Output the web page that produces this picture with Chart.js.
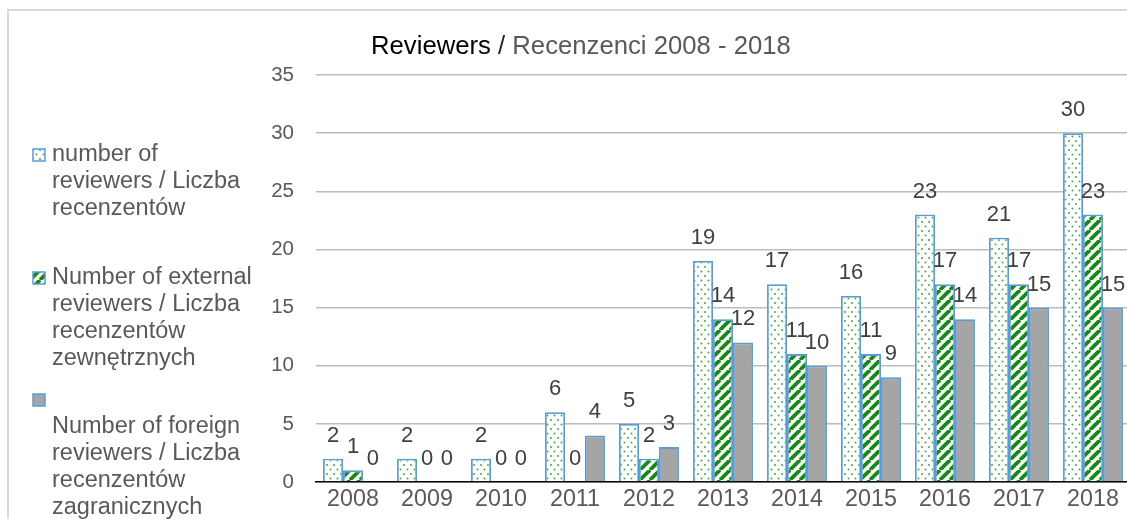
<!DOCTYPE html>
<html>
<head>
<meta charset="utf-8">
<script src="https://cdn.jsdelivr.net/npm/chart.js@4/dist/chart.umd.min.js"></script>
<style>
  html, body { margin: 0; padding: 0; background: #fff; }
  body { width: 1127px; height: 519px; overflow: hidden; position: relative; }
  #frame { position: absolute; left: 7px; top: 9px; width: 1300px; height: 700px;
           border: 2px solid #d9d9d9; box-sizing: border-box; }
  #chart { position: absolute; left: 0; top: 0; }
</style>
</head>
<body>
<div id="frame"></div>
<canvas id="chart" width="1140" height="540" style="width:1140px;height:540px"></canvas>
<script>
/* ==============================
   DATA
============================== */
var years = ["2008", "2009", "2010", "2011", "2012", "2013", "2014", "2015", "2016", "2017", "2018"];
var totalReviewers = [2, 2, 2, 6, 5, 19, 17, 16, 23, 21, 30];
var externalReviewers = [1, 0, 0, 0, 2, 14, 11, 11, 17, 17, 23];
var foreignReviewers = [0, 0, 0, 4, 3, 12, 10, 9, 14, 15, 15];
var seriesNames = [
    "number of reviewers / Liczba recenzentów",
    "Number of external reviewers / Liczba recenzentów zewnętrznych",
    "Number of foreign reviewers / Liczba recenzentów zagranicznych"
];
// legend text as Excel wrapped it
var legendLines = [
    ["number of", "reviewers / Liczba", "recenzentów"],
    ["Number of external", "reviewers / Liczba", "recenzentów", "zewnętrznych"],
    ["", "Number of foreign", "reviewers / Liczba", "recenzentów", "zagranicznych"]
];
var titleParts = ["Reviewers", " / ", "Recenzenci 2008 - 2018"];
var yMax = 35;
var yStep = 5;

var FONT = "'Liberation Sans', Arial, sans-serif";
var BORDER_BLUE = "#5b9bd5";
var TEXT_GREY = "#595959";

/* ==============================
   PATTERNS
============================== */
function dotPattern(ctx) {
    var c = document.createElement("canvas");
    c.width = 7;
    c.height = 9;
    var g = c.getContext("2d");
    g.fillStyle = "#fff";
    g.fillRect(0, 0, 7, 9);
    g.fillStyle = "#45a845";
    g.beginPath();
    g.arc(1.5, 1.5, 1, 0, Math.PI * 2);
    g.arc(5, 6, 1, 0, Math.PI * 2);
    g.fill();
    return ctx.createPattern(c, "repeat");
}
function stripePattern(ctx) {
    var c = document.createElement("canvas");
    c.width = 10;
    c.height = 10;
    var g = c.getContext("2d");
    g.fillStyle = "#fff";
    g.fillRect(0, 0, 10, 10);
    g.strokeStyle = "#188818";
    g.lineWidth = 3.8;
    [-10, 0, 10].forEach(function (k) {
        g.beginPath();
        g.moveTo(k, 10);
        g.lineTo(k + 10, 0);
        g.stroke();
    });
    return ctx.createPattern(c, "repeat");
}

var canvas = document.getElementById("chart");
var ctx = canvas.getContext("2d");
var fills = [dotPattern(ctx), stripePattern(ctx), "#a5a5a5"];

/* ==============================
   PLUGINS
============================== */
var valueLabels = {
    id: "valueLabels",
    afterDatasetsDraw: function (chart) {
        var c = chart.ctx;
        c.save();
        c.font = "22px " + FONT;
        c.fillStyle = "#404040";
        c.textAlign = "center";
        c.textBaseline = "alphabetic";
        chart.data.datasets.forEach(function (ds, i) {
            chart.getDatasetMeta(i).data.forEach(function (bar, j) {
                c.fillText(String(ds.data[j]), bar.x, bar.y - 17);
            });
        });
        c.restore();
    }
};

var titlePlugin = {
    id: "mixedTitle",
    afterDraw: function (chart) {
        var c = chart.ctx;
        var colors = ["#000000", "#262626", TEXT_GREY];
        c.save();
        c.font = "25.7px " + FONT;
        c.textBaseline = "alphabetic";
        var x = 371;
        titleParts.forEach(function (t, i) {
            c.fillStyle = colors[i];
            c.fillText(t, x, 54);
            x += c.measureText(t).width;
        });
        c.restore();
    }
};

var sideLegend = {
    id: "sideLegend",
    afterDraw: function (chart) {
        var c = chart.ctx;
        var starts = [155, 278, 400];
        var lineH = 27;
        c.save();
        c.font = "23.5px " + FONT;
        c.textBaseline = "middle";
        legendLines.forEach(function (lines, i) {
            var y0 = starts[i];
            c.fillStyle = fills[i];
            c.fillRect(33, y0 - 6, 12, 12);
            c.strokeStyle = BORDER_BLUE;
            c.lineWidth = 1.5;
            c.strokeRect(33, y0 - 6, 12, 12);
            c.fillStyle = TEXT_GREY;
            lines.forEach(function (t, k) {
                c.fillText(t, 52, y0 + k * lineH);
            });
        });
        c.restore();
    }
};

/* ==============================
   CHART
============================== */
function makeSet(i, values) {
    return {
        label: seriesNames[i],
        data: values,
        backgroundColor: fills[i],
        borderColor: BORDER_BLUE,
        borderWidth: 1.8,
        borderSkipped: "start",
        barPercentage: 1,
        categoryPercentage: 0.81
    };
}

Chart.defaults.font.family = FONT;

new Chart(canvas, {
    type: "bar",
    data: {
        labels: years,
        datasets: [
            makeSet(0, totalReviewers),
            makeSet(1, externalReviewers),
            makeSet(2, foreignReviewers)
        ]
    },
    options: {
        responsive: false,
        animation: false,
        devicePixelRatio: 1,
        layout: { padding: { top: 75, right: 10, left: 0, bottom: 0 } },
        plugins: {
            legend: { display: false },
            tooltip: { enabled: false },
            title: { display: false }
        },
        scales: {
            x: {
                grid: { display: false, drawTicks: false },
                border: { display: true, color: "#000000", width: 1.6 },
                ticks: { color: TEXT_GREY, font: { size: 23.3 }, padding: 4, maxRotation: 0 },
                afterFit: function (scale) { scale.height = 58; }
            },
            y: {
                min: 0,
                max: yMax,
                grid: { color: "#bcbcbc", lineWidth: 1.4, drawTicks: false },
                border: { display: false },
                ticks: { stepSize: yStep, color: TEXT_GREY, font: { size: 20.5 }, padding: 22 },
                afterFit: function (scale) { scale.width = 316; }
            }
        }
    },
    plugins: [valueLabels, titlePlugin, sideLegend]
});
</script>
</body>
</html>
